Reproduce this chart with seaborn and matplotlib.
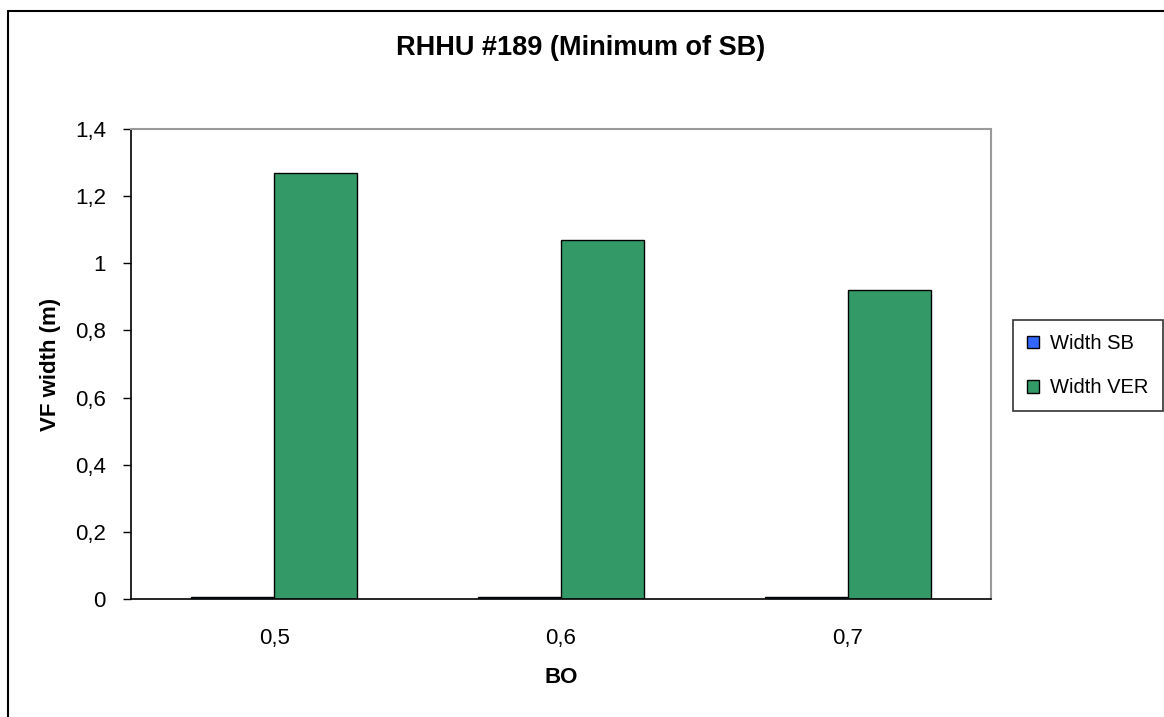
import matplotlib
matplotlib.use("Agg")
import matplotlib.pyplot as plt
import seaborn as sns
import pandas as pd
from matplotlib.lines import Line2D
from matplotlib.patches import Patch

categories = ["0,5", "0,6", "0,7"]
width_sb = [0.006, 0.006, 0.006]
width_ver = [1.27, 1.07, 0.92]
series_names = ["Width SB", "Width VER"]
y_ticks = [0, 0.2, 0.4, 0.6, 0.8, 1.0, 1.2, 1.4]
y_tick_labels = ["0", "0,2", "0,4", "0,6", "0,8", "1", "1,2", "1,4"]

df = pd.DataFrame({
    "BO": categories * 2,
    "value": width_sb + width_ver,
    "series": [series_names[0]] * 3 + [series_names[1]] * 3,
})

sns.set_style("white")
plt.rcParams["font.family"] = ["Liberation Sans", "DejaVu Sans"]
plt.rcParams["text.color"] = "black"
plt.rcParams["axes.labelcolor"] = "black"
plt.rcParams["xtick.color"] = "black"
plt.rcParams["ytick.color"] = "black"

fig = plt.figure(figsize=(11.64, 7.17), dpi=100)
ax = fig.add_axes([131 / 1164, 1 - 599 / 717, (991 - 131) / 1164, (599 - 129) / 717])

colors = {"Width SB": "#3366FF", "Width VER": "#339966"}
sns.barplot(data=df, x="BO", y="value", hue="series", palette=colors,
            width=0.58, edgecolor="black", linewidth=1.0, ax=ax,
            saturation=1, legend=False)

ax.set_ylim(0, 1.4)
ax.set_xlim(-0.5, 2.5)
ax.set_yticks(y_ticks)
ax.set_yticklabels(y_tick_labels, fontsize=16)
ax.set_xticks([0, 1, 2])
ax.set_xticklabels(categories, fontsize=16)
ax.set_xticks([-0.5, 0.5, 1.5, 2.5], minor=True)
ax.tick_params(axis="x", which="major", length=0, pad=21)
ax.tick_params(axis="x", which="minor", length=6, width=1, color="black", direction="out")
ax.tick_params(axis="y", length=6, width=1, color="black", direction="out", left=True, pad=12)

for s in ["left", "bottom"]:
    ax.spines[s].set_color("black")
    ax.spines[s].set_linewidth(1.2)
for s in ["top", "right"]:
    ax.spines[s].set_color("#999999")
    ax.spines[s].set_linewidth(1.5)

ax.set_xlabel("BO", fontsize=16, fontweight="bold", labelpad=13)
ax.set_ylabel("VF width (m)", fontsize=16, fontweight="bold", labelpad=10)

fig.text(581 / 1164, 1 - 48 / 717, "RHHU #189 (Minimum of SB)", fontsize=19.5,
         fontweight="bold", ha="center", va="center")

handles = [Patch(facecolor=colors[n], edgecolor="black", label=n) for n in series_names]
leg = fig.legend(handles=handles, loc="upper left",
                 bbox_to_anchor=(1013 / 1164, 1 - 320 / 717),
                 frameon=True, fancybox=False, fontsize=14.5,
                 handlelength=0.6, handleheight=0.6, handletextpad=0.55,
                 borderpad=0.7, labelspacing=1.25, borderaxespad=0)
leg.get_frame().set_edgecolor("black")
leg.get_frame().set_linewidth(1.2)

fig.add_artist(Line2D([8 / 1164, 8 / 1164], [0, 1 - 11 / 717], transform=fig.transFigure,
                      color="black", linewidth=1.5))
fig.add_artist(Line2D([8 / 1164, 1], [1 - 11 / 717, 1 - 11 / 717], transform=fig.transFigure,
                      color="black", linewidth=1.5))

fig.savefig("out.png", dpi=100)
